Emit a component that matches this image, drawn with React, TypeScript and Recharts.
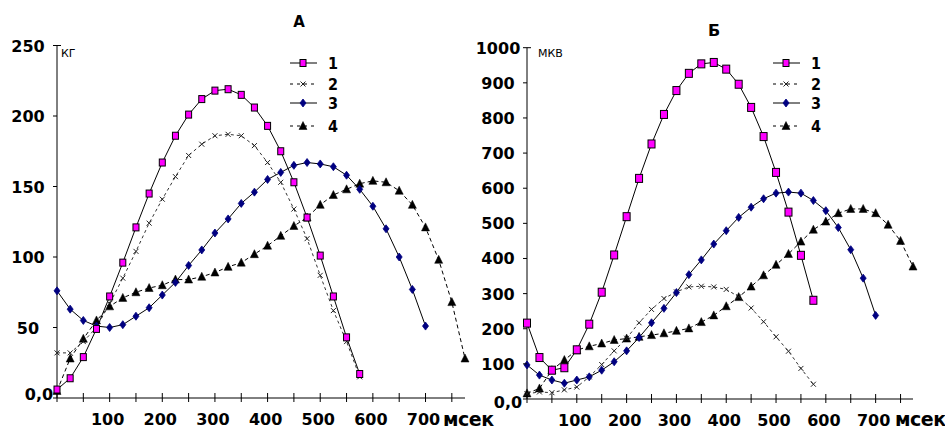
import React from 'react';
import { LineChart, Line, XAxis, YAxis } from 'recharts';

// time categories (мсек)
const TIME = [0, 25, 50, 75, 100, 125, 150, 175, 200, 225, 250, 275, 300, 325, 350, 375, 400, 425, 450, 475, 500, 525, 550, 575, 600, 625, 650, 675, 700, 725, 750, 775];
const X_TICKS = [0, 50, 100, 150, 200, 250, 300, 350, 400, 450, 500, 550, 600, 650, 700, 750];
const LEFT_Y_TICKS = [0, 50, 100, 150, 200, 250];
const RIGHT_Y_TICKS = [0, 100, 200, 300, 400, 500, 600, 700, 800, 900, 1000];
const LEGEND_LABELS = ['1', '2', '3', '4'];

// Chart A (КГ)
const A1 = [6, 14, 29, 49, 72, 96, 121, 145, 167, 186, 201, 212, 218, 219, 215, 206, 193, 175, 153, 128, 101, 72, 43, 17];
const A2 = [32, 32, 40, 50, 67, 85, 104, 124, 141, 157, 172, 180, 186, 187, 186, 179, 167, 153, 134, 113, 87, 62, 40, 15];
const A3 = [76, 63, 55, 51, 50, 52, 58, 64, 73, 82, 94, 105, 117, 127, 138, 146, 155, 160, 165, 167, 166, 164, 158, 148, 136, 120, 100, 77, 51];
const A4 = [5, 28, 42, 55, 65, 71, 75, 78, 80, 84, 84, 86, 89, 93, 96, 102, 108, 115, 122, 128, 137, 144, 148, 152, 154, 153, 147, 137, 121, 98, 68, 28];

// Chart Б (МКВ)
const B1 = [216, 118, 82, 89, 140, 213, 304, 410, 519, 628, 726, 810, 878, 927, 954, 958, 939, 896, 830, 747, 645, 532, 409, 281];
const B2 = [15, 20, 18, 26, 34, 63, 98, 137, 173, 217, 255, 286, 305, 319, 321, 319, 312, 291, 259, 220, 177, 136, 87, 42];
const B3 = [97, 68, 54, 45, 54, 63, 82, 106, 137, 175, 217, 258, 303, 354, 396, 441, 479, 517, 546, 570, 586, 589, 586, 565, 536, 488, 425, 344, 238];
const B4 = [16, 30, 82, 111, 139, 150, 158, 168, 172, 177, 182, 187, 194, 201, 219, 238, 264, 290, 320, 352, 382, 413, 448, 482, 505, 529, 541, 541, 529, 496, 450, 377];

const toRows = (vals: number[]) => vals.map((v, i) => ({ x: TIME[i], y: v }));

const FONT = "'DejaVu Sans', sans-serif";
const PINK = '#ff00ff';
const NAVY = '#000080';

const SquareMark = ({ cx, cy, s = 7 }: any) => (
  <rect x={cx - s / 2} y={cy - s / 2 - 0.5} width={s} height={s + 1} fill={PINK} stroke="#000" strokeWidth={1} />
);
const CrossMark = ({ cx, cy }: any) => (
  <g stroke="#222" strokeWidth={1}>
    <line x1={cx - 2.5} y1={cy - 2.5} x2={cx + 2.5} y2={cy + 2.5} />
    <line x1={cx - 2.5} y1={cy + 2.5} x2={cx + 2.5} y2={cy - 2.5} />
  </g>
);
const DiamondMark = ({ cx, cy }: any) => (
  <polygon points={`${cx},${cy - 4} ${cx + 3},${cy} ${cx},${cy + 4} ${cx - 3},${cy}`} fill={NAVY} stroke={NAVY} strokeWidth={0.8} />
);
const TriangleMark = ({ cx, cy }: any) => (
  <polygon points={`${cx},${cy - 4.5} ${cx + 4},${cy + 3.5} ${cx - 4},${cy + 3.5}`} fill="#000" stroke="#000" strokeWidth={0.5} />
);

const mkDot = (Comp: any, extra: any = {}) => (p: any) =>
  p.cx == null || p.cy == null ? <g key={`e${p.index}`} /> : <Comp key={`d${p.index}`} cx={p.cx} cy={p.cy} {...extra} />;

const XTick = ({ x, y, payload }: any) => {
  const v = payload.value;
  return (
    <g>
      <line x1={x} y1={y - 5} x2={x} y2={y + 4} stroke="#000" strokeWidth={1} />
      {v > 0 && v % 100 === 0 ? (
        <text x={x - 2} y={y + 27} textAnchor="middle" fontFamily={FONT} fontWeight="bold" fontSize={16} fill="#000">
          {v}
        </text>
      ) : null}
    </g>
  );
};

const makeYTick = (top: number, zeroDx: number, zeroDy: number) => ({ x, y, payload }: any) => {
  const v = payload.value;
  const isTop = v === top;
  return (
    <g>
      <line x1={x - 4} y1={y} x2={isTop ? x + 4 : x} y2={y} stroke="#000" strokeWidth={1} />
      <text
        x={v === 0 ? x - zeroDx : x - 29}
        y={v === 0 ? y + zeroDy : y + 6}
        textAnchor="middle"
        fontFamily={FONT}
        fontWeight="bold"
        fontSize={16}
        fill="#000"
      >
        {v === 0 ? '0,0' : v}
      </text>
    </g>
  );
};

type Panel = {
  s1: number[]; s2: number[]; s3: number[]; s4: number[];
  yMax: number; yTicks: number[];
  width: number; top: number; right: number; xAxisH: number;
  zeroDx: number; zeroDy: number; sq: number;
};

const PanelChart = ({ p }: { p: Panel }) => (
  <LineChart width={p.width} height={429} margin={{ top: p.top, right: p.right, bottom: 0, left: 0 }}>
    <XAxis
      type="number"
      dataKey="x"
      domain={[0, 775]}
      ticks={X_TICKS}
      interval={0}
      height={p.xAxisH}
      tickSize={0}
      tickMargin={0}
      tickLine={false}
      axisLine={{ stroke: '#000', strokeWidth: 1 }}
      tick={<XTick />}
    />
    <YAxis
      type="number"
      dataKey="y"
      domain={[0, p.yMax]}
      ticks={p.yTicks}
      interval={0}
      width={57}
      tickSize={0}
      tickMargin={0}
      tickLine={false}
      axisLine={{ stroke: '#000', strokeWidth: 1 }}
      tick={makeYTick(p.yMax, p.zeroDx, p.zeroDy)}
    />
    <Line data={toRows(p.s4)} dataKey="y" stroke="#000" strokeWidth={1} strokeDasharray="4 3" dot={mkDot(TriangleMark)} isAnimationActive={false} />
    <Line data={toRows(p.s2)} dataKey="y" stroke="#333" strokeWidth={1} strokeDasharray="3 3" dot={mkDot(CrossMark)} isAnimationActive={false} />
    <Line data={toRows(p.s3)} dataKey="y" stroke="#000" strokeWidth={1} dot={mkDot(DiamondMark)} isAnimationActive={false} />
    <Line data={toRows(p.s1)} dataKey="y" stroke="#000" strokeWidth={1} dot={mkDot(SquareMark, { s: p.sq })} isAnimationActive={false} />
  </LineChart>
);

const LEGEND_Y = [63, 84, 103, 126];

const LegendBlock = ({ x0 }: { x0: number }) => (
  <g>
    {LEGEND_LABELS.map((lab, i) => {
      const y = LEGEND_Y[i];
      const mid = x0 + 13;
      const dashed = i === 1 || i === 3;
      return (
        <g key={lab}>
          <line x1={x0} y1={y} x2={x0 + 27} y2={y} stroke="#000" strokeWidth={1} strokeDasharray={dashed ? '3 4' : undefined} />
          {i === 0 && <SquareMark cx={mid} cy={y} s={6} />}
          {i === 1 && <CrossMark cx={mid} cy={y} />}
          {i === 2 && <DiamondMark cx={mid} cy={y} />}
          {i === 3 && <TriangleMark cx={mid} cy={y} />}
          <text x={x0 + 38} y={y + 6} fontFamily="'DejaVu Sans Condensed', 'DejaVu Sans', sans-serif" fontWeight="bold" fontSize={16} fill="#000">
            {lab}
          </text>
        </g>
      );
    })}
  </g>
);

const LEFT: Panel = { s1: A1, s2: A2, s3: A3, s4: A4, yMax: 250, yTicks: LEFT_Y_TICKS, width: 470, top: 45.5, right: 5, xAxisH: 31, zeroDx: 18, zeroDy: 2, sq: 6 };
const RIGHT: Panel = { s1: B1, s2: B2, s3: B3, s4: B4, yMax: 1000, yTicks: RIGHT_Y_TICKS, width: 475, top: 47.7, right: 32, xAxisH: 30, zeroDx: 19, zeroDy: 9, sq: 7 };

export default function App() {
  return (
    <div style={{ position: 'absolute', left: 0, top: 0, width: 945, height: 429, background: '#fff', overflow: 'hidden' }}>
      <div style={{ position: 'absolute', left: 0, top: 0 }}>
        <PanelChart p={LEFT} />
      </div>
      <div style={{ position: 'absolute', left: 470, top: 0 }}>
        <PanelChart p={RIGHT} />
      </div>
      <svg width={945} height={429} style={{ position: 'absolute', left: 0, top: 0, pointerEvents: 'none' }}>
        <text x={299} y={27} textAnchor="middle" fontFamily={FONT} fontWeight="bold" fontSize={15}>А</text>
        <text x={714} y={36} textAnchor="middle" fontFamily={FONT} fontWeight="bold" fontSize={16}>Б</text>
        <text x={61} y={57} fontFamily={FONT} fontSize={11}>КГ</text>
        <text x={538} y={57} fontFamily={FONT} fontSize={11}>МКВ</text>
        <text x={443} y={426} fontFamily={FONT} fontWeight="900" fontSize={19} letterSpacing={-0.5}>мсек</text>
        <text x={895} y={426} fontFamily={FONT} fontWeight="900" fontSize={19} letterSpacing={-0.5}>мсек</text>
        <LegendBlock x0={290} />
        <LegendBlock x0={773} />
      </svg>
    </div>
  );
}
